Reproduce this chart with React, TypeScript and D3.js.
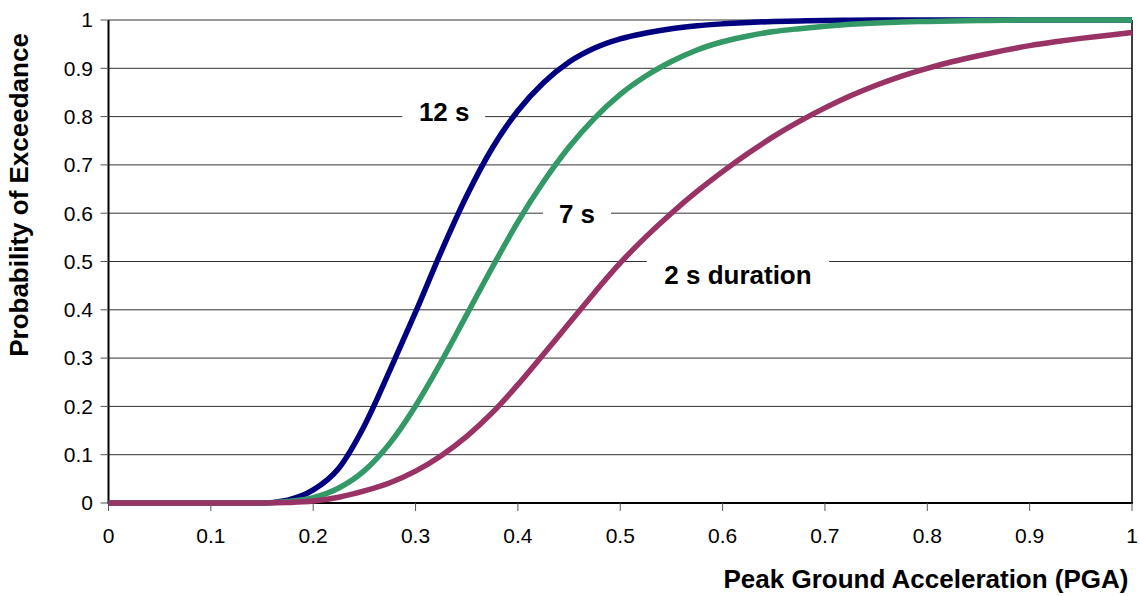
import React from 'react';
import { scaleLinear, line, curveMonotoneX } from 'd3';

// PGA sample points (g)
const pga = [
  0, 0.025, 0.05, 0.075, 0.1, 0.125, 0.15, 0.175, 0.2, 0.225, 0.25, 0.275, 0.3, 0.325,
  0.35, 0.375, 0.4, 0.425, 0.45, 0.475, 0.5, 0.525, 0.55, 0.575, 0.6, 0.625, 0.65,
  0.675, 0.7, 0.725, 0.75, 0.775, 0.8, 0.825, 0.85, 0.875, 0.9, 0.925, 0.95, 0.975, 1,
];

// probability of exceedance
const dur12 = [
  0, 0, 0, 0, 0, 0, 0, 0.006, 0.027, 0.072, 0.16, 0.275, 0.395, 0.52,
  0.636, 0.735, 0.812, 0.87, 0.913, 0.942, 0.961, 0.973, 0.982, 0.988, 0.992, 0.995, 0.997,
  0.998, 0.999, 0.9995, 1, 1, 1, 1, 1, 1, 1, 1, 1, 1, 1,
];
const dur7 = [
  0, 0, 0, 0, 0, 0, 0, 0.003, 0.011, 0.031, 0.067, 0.124, 0.201, 0.292,
  0.39, 0.488, 0.582, 0.665, 0.737, 0.797, 0.846, 0.884, 0.914, 0.938, 0.955, 0.967, 0.976,
  0.982, 0.987, 0.991, 0.994, 0.996, 0.997, 0.998, 0.999, 0.9995, 1, 1, 1, 1, 1,
];
const dur2 = [
  0, 0, 0, 0, 0, 0, 0, 0.001, 0.004, 0.012, 0.025, 0.042, 0.066, 0.098,
  0.138, 0.187, 0.245, 0.308, 0.372, 0.436, 0.497, 0.551, 0.6, 0.645, 0.686, 0.724, 0.759,
  0.79, 0.818, 0.843, 0.865, 0.884, 0.9, 0.914, 0.926, 0.937, 0.947, 0.955, 0.962, 0.968, 0.974,
];

const xTicks = [0, 0.1, 0.2, 0.3, 0.4, 0.5, 0.6, 0.7, 0.8, 0.9, 1];
const yTicks = [0, 0.1, 0.2, 0.3, 0.4, 0.5, 0.6, 0.7, 0.8, 0.9, 1];

const series = [
  { name: '12 s', values: dur12, color: '#000080' },
  { name: '7 s', values: dur7, color: '#339966' },
  { name: '2 s duration', values: dur2, color: '#993366' },
];

// in-plot labels: text centre (x) and baseline (y) in data units, plus the gridline gap
const labels = [
  { text: '12 s', x: 0.328, y: 0.791, grid: 0.8, x0: 0.287, x1: 0.368 },
  { text: '7 s', x: 0.4577, y: 0.58, grid: 0.6, x0: 0.4245, x1: 0.491 },
  { text: '2 s duration', x: 0.615, y: 0.4534, grid: 0.5, x0: 0.526, x1: 0.704 },
];

const font = "Arial, 'Liberation Sans', sans-serif";

const App = () => {
  const left = 108.5;
  const right = 1132;
  const top = 20;
  const bottom = 503;

  const x = scaleLinear().domain([0, 1]).range([left, right]);
  const y = scaleLinear().domain([0, 1]).range([bottom, top]);

  const makeLine = (vals: number[]) =>
    line<number>()
      .x((_, i) => x(pga[i]))
      .y((d) => y(d))
      .curve(curveMonotoneX)(vals) || '';

  return (
    <svg
      width={1140}
      height={596}
      style={{ position: 'absolute', left: 0, top: 0, background: '#fff' }}
    >
      {/* gridlines */}
      {yTicks.slice(1).map((t) => (
        <line key={t} x1={left} x2={right} y1={y(t)} y2={y(t)} stroke="#333" strokeWidth={1} />
      ))}

      {/* label backgrounds hide the gridline behind the text */}
      {labels.map((l) => {
        const gy = y(l.grid);
        const by = y(l.y);
        const y0 = Math.min(gy, by - 20) - 3;
        const y1 = Math.max(gy, by) + 4;
        return <rect key={l.text} x={x(l.x0)} y={y0} width={x(l.x1) - x(l.x0)} height={y1 - y0} fill="#fff" />;
      })}

      {/* axes */}
      <line x1={left} x2={left} y1={top} y2={bottom} stroke="#000" strokeWidth={2} />
      <line x1={right} x2={right} y1={top} y2={bottom} stroke="#000" strokeWidth={1.5} />
      <line x1={left - 1} x2={right + 1} y1={bottom} y2={bottom} stroke="#000" strokeWidth={2} />

      {yTicks.map((t) => (
        <g key={t}>
          <line x1={left - 8} x2={left} y1={y(t)} y2={y(t)} stroke="#555" strokeWidth={1} />
          <text x={93} y={y(t)} dy="0.35em" textAnchor="end" fontSize={21} fontFamily={font} fill="#000">
            {t}
          </text>
        </g>
      ))}
      {xTicks.map((t) => (
        <g key={t}>
          <line x1={x(t)} x2={x(t)} y1={bottom} y2={bottom + 8} stroke="#555" strokeWidth={1} />
          <text x={x(t)} y={543} textAnchor="middle" fontSize={21} fontFamily={font} fill="#000">
            {t}
          </text>
        </g>
      ))}

      {/* curves */}
      {series.map((s) => (
        <path key={s.name} d={makeLine(s.values)} fill="none" stroke={s.color} strokeWidth={5.5} strokeLinejoin="round" />
      ))}

      {labels.map((l) => (
        <text
          key={l.text}
          x={x(l.x)}
          y={y(l.y)}
          textAnchor="middle"
          fontSize={26}
          fontWeight="bold"
          fontFamily={font}
          fill="#000"
        >
          {l.text}
        </text>
      ))}

      {/* axis titles */}
      <text x={926} y={588} textAnchor="middle" fontSize={26} fontWeight="bold" fontFamily={font} fill="#000">
        Peak Ground Acceleration (PGA)
      </text>
      <text
        transform="translate(28,195) rotate(-90)"
        textAnchor="middle"
        fontSize={26}
        fontWeight="bold"
        fontFamily={font}
        fill="#000"
      >
        Probability of Exceedance
      </text>
    </svg>
  );
};

export default App;
